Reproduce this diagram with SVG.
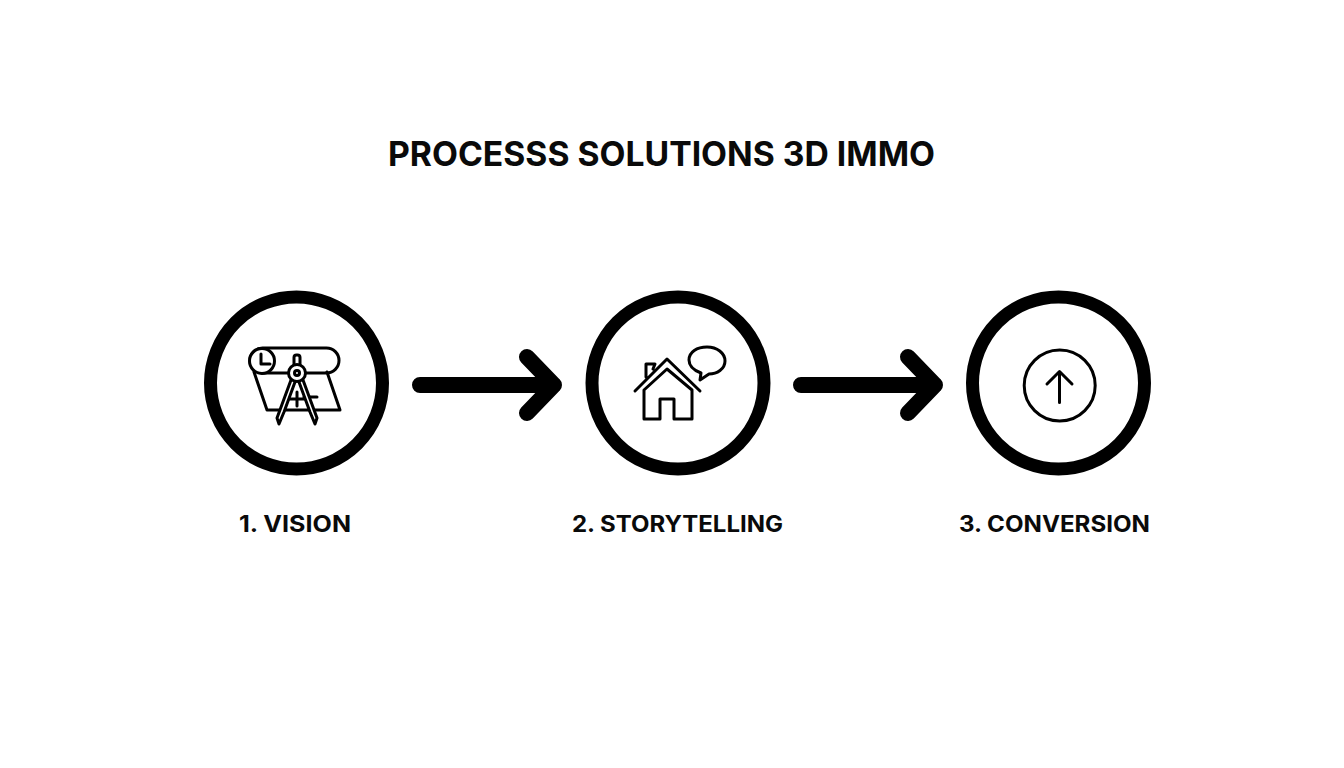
<svg xmlns="http://www.w3.org/2000/svg" width="1344" height="768" viewBox="0 0 1344 768">
<style>
.ring{fill:#fff;stroke:#000;stroke-width:13}
.ic{fill:none;stroke:#000;stroke-width:3;stroke-linejoin:round;stroke-linecap:round}
.ar{fill:none;stroke:#000;stroke-width:16;stroke-linecap:round;stroke-linejoin:round}
text{font-family:Inter,"Liberation Sans",sans-serif;font-weight:700;fill:#0a0a0a;text-anchor:middle}
.t{font-size:34px}
.l{font-size:23px}
</style>
<rect width="1344" height="768" fill="#fff"/>
<text id="title" class="t" x="661.500" y="166" textLength="547" lengthAdjust="spacingAndGlyphs">PROCESSS SOLUTIONS 3D IMMO</text>
<g id="connectors">
<path class="ar" d="M420 385H554M527 357L554 385L527 413"/>
<path class="ar" d="M801 385H935M908 357L935 385L908 413"/>
</g>
<g id="node1">
<circle class="ring" cx="296.500" cy="383" r="86"/>
<path class="ic" d="M254 372L267 410H340L327 372"/>
<rect class="ic" x="250" y="348" width="89" height="25" rx="12.500"/>
<circle class="ic" cx="262" cy="361" r="12.500" style="fill:#fff"/>
<path class="ic" d="M261 354V364H270"/>
<path class="ic" d="M297 392V406M290 399H304M304 397H317"/>
<rect class="ic" x="294" y="355" width="6" height="11" rx="2.500" style="fill:#fff"/>
<path class="ic" d="M291 380L277 418L279 424L284 412L295 382M303 380L317 418L315 424L310 412L299 382" style="fill:#fff"/>
<circle class="ic" cx="297" cy="373" r="8.500" style="fill:#fff"/>
<circle class="ic" cx="297" cy="373" r="2.500"/>
<text class="l" x="295" y="532" textLength="112" lengthAdjust="spacingAndGlyphs">1. VISION</text>
</g>
<g id="node2">
<circle class="ring" cx="678" cy="383" r="86"/>
<path class="ic" d="M635 391L667 359L700 391M644 390L667 369L692 390M644 390V419H660V399H674V419H692V390M646 377V364H655L653 369"/>
<path class="ic" d="M700 380L701 373C693 370 689 365 689 360C689 352 697 347 707 347C717 347 725 353 725 361C725 369 717 374 709 374Z"/>
<text class="l" x="677.500" y="532" textLength="211" lengthAdjust="spacingAndGlyphs">2. STORYTELLING</text>
</g>
<g id="node3">
<circle class="ring" cx="1058.500" cy="383" r="86"/>
<circle class="ic" cx="1059.700" cy="385.500" r="35.500"/>
<path class="ic" d="M1059.500 402.500V372M1047 384L1059.500 371.500L1072 384"/>
<text class="l" x="1054.500" y="532" textLength="191" lengthAdjust="spacingAndGlyphs">3. CONVERSION</text>
</g>
</svg>
